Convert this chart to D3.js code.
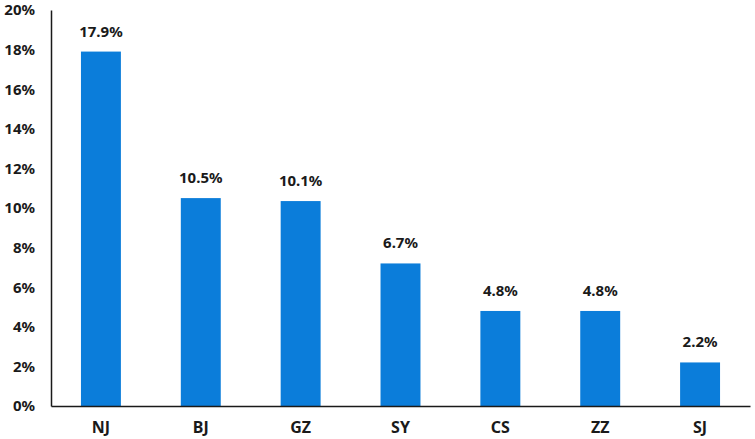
<!DOCTYPE html>
<html><head><meta charset="utf-8">
<script src="https://cdn.jsdelivr.net/npm/d3@7"></script>
<style>body{margin:0;background:#fff}svg{display:block}text{font-family:"Noto Sans","Open Sans",sans-serif;font-weight:bold;fill:#1a1a1a}</style>
</head><body><svg id="c" width="755" height="439"></svg>
<script>
const categories = ["NJ","BJ","GZ","SY","CS","ZZ","SJ"];
const values = [17.9, 10.5, 10.35, 7.2, 4.8, 4.8, 2.2];
const labels = ["17.9%","10.5%","10.1%","6.7%","4.8%","4.8%","2.2%"];
const yTicks = [0,2,4,6,8,10,12,14,16,18,20];

const svg = d3.select("#c");
const x = d3.scaleBand().domain(categories).range([51, 750]).paddingInner(0.6).paddingOuter(0.3);
const y = d3.scaleLinear().domain([0, 20]).range([406, 10]);

svg.selectAll("rect.bar").data(values).join("rect")
  .attr("class","bar")
  .attr("x",(d,i)=>x(categories[i]))
  .attr("width",x.bandwidth())
  .attr("y",d=>y(d))
  .attr("height",d=>y(0)-y(d))
  .attr("fill","#0b7dda");

svg.selectAll("text.val").data(values).join("text")
  .attr("class","val")
  .attr("x",(d,i)=>x(categories[i])+x.bandwidth()/2)
  .attr("y",d=>y(d)-15)
  .attr("text-anchor","middle")
  .style("font-size","15px")
  .text((d,i)=>labels[i]);

const yAxis = d3.axisLeft(y).tickValues(yTicks).tickFormat(d=>d+"%").tickSize(0).tickPadding(16);
const gy = svg.append("g").attr("transform","translate(51,0)").call(yAxis);
gy.select(".domain").attr("stroke","#1a1a1a").attr("stroke-width",1.5);
gy.selectAll("text").style("font-size","15px").attr("fill","#1a1a1a").style("font-family","'Noto Sans',sans-serif");

const xAxis = d3.axisBottom(x).tickSize(0).tickPadding(16);
const gx = svg.append("g").attr("transform","translate(0,406)").call(xAxis);
gx.select(".domain").attr("stroke","#1a1a1a").attr("stroke-width",1.5);
gx.selectAll("text").style("font-size","16px").attr("fill","#1a1a1a").style("font-family","'Noto Sans',sans-serif");
</script></body></html>
